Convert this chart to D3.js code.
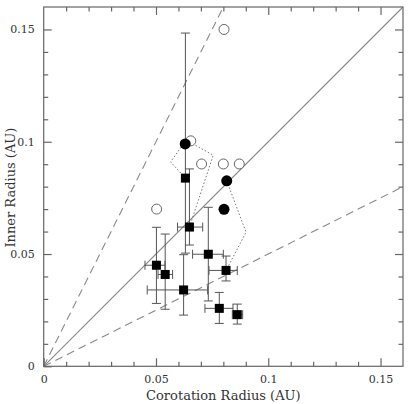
<!DOCTYPE html>
<html>
<head>
<meta charset="utf-8">
<script src="https://cdn.jsdelivr.net/npm/d3@7"></script>
<style>
body { margin: 0; background: #fff; }
text { font-family: "DejaVu Serif", serif; fill: #333; }
</style>
</head>
<body>
<div id="chart"></div>
<script>
var width = 409;
var height = 404;
var margin = {left: 43.7, top: 7, right: 6, bottom: 37.7};

// axis ticks
var majorTicks = [0, 0.05, 0.1, 0.15];
var majorLabels = ["0", "0.05", "0.1", "0.15"];
var minorTicks = [0.01, 0.02, 0.03, 0.04, 0.06, 0.07, 0.08, 0.09, 0.11, 0.12, 0.13, 0.14];

// reference lines y = slope * x
var lineSlopes = [2, 1, 0.5];
var lineDashed = [true, false, true];

// filled squares with error bars
var sqX   = [0.0631, 0.0649, 0.0733, 0.0502, 0.0541, 0.0623, 0.0812, 0.0782, 0.0862];
var sqY   = [0.0838, 0.0620, 0.0499, 0.0450, 0.0409, 0.0340, 0.0427, 0.0258, 0.0230];
var sqXlo = [0.0631, 0.0596, 0.0663, 0.0451, 0.0509, 0.0461, 0.0736, 0.0718, 0.0840];
var sqXhi = [0.0631, 0.0708, 0.0800, 0.0540, 0.0574, 0.0730, 0.0862, 0.0843, 0.0886];
var sqYlo = [0.0504, 0.0540, 0.0291, 0.0280, 0.0254, 0.0228, 0.0380, 0.0191, 0.0188];
var sqYhi = [0.1484, 0.0879, 0.0708, 0.0619, 0.0589, 0.0497, 0.0491, 0.0329, 0.0277];

// filled circles
var fcX = [0.0630, 0.0815, 0.0803];
var fcY = [0.0990, 0.0826, 0.0699];

// open circles
var ocX = [0.0803, 0.0655, 0.0703, 0.0800, 0.0871, 0.0503];
var ocY = [0.1500, 0.1004, 0.0901, 0.0901, 0.0901, 0.0700];

// dotted outlines
var poly1X = [0.0631, 0.0565, 0.0634, 0.0755, 0.0649];
var poly1Y = [0.0838, 0.0910, 0.1007, 0.0940, 0.0620];
var poly2X = [0.0815, 0.0901, 0.0812];
var poly2Y = [0.0826, 0.0597, 0.0427];

var svg = d3.select("#chart")
            .append("svg")
            .attr("width", width)
            .attr("height", height);

var xScale = d3.scaleLinear()
               .domain([0, 0.16])
               .range([margin.left, width - margin.right]);
var yScale = d3.scaleLinear()
               .domain([0, 0.16])
               .range([height - margin.bottom, margin.top]);

var axisColor = "#666";

// reference lines
lineSlopes.forEach(function(s, i){
  var xEnd = Math.min(0.16, 0.16 / s);
  svg.append("line")
     .attr("x1", xScale(0)).attr("y1", yScale(0))
     .attr("x2", xScale(xEnd)).attr("y2", yScale(xEnd * s))
     .attr("stroke", "#888")
     .attr("stroke-width", 1.1)
     .attr("stroke-dasharray", lineDashed[i] ? "8,5" : null);
});

// dotted outlines
var line = d3.line()
             .x(function(d){ return xScale(d[0]); })
             .y(function(d){ return yScale(d[1]); });
svg.append("path")
   .datum(d3.zip(poly1X, poly1Y))
   .attr("d", line)
   .attr("fill", "none").attr("stroke", "#777").attr("stroke-width", 1)
   .attr("stroke-dasharray", "1.5,2");
svg.append("path")
   .datum(d3.zip(poly2X, poly2Y))
   .attr("d", line)
   .attr("fill", "none").attr("stroke", "#777").attr("stroke-width", 1)
   .attr("stroke-dasharray", "1.5,2");

// error bars
var cap = 4.5;
var eb = svg.append("g").attr("stroke", "#555").attr("stroke-width", 1);
for (var i = 0; i < sqX.length; i++) {
  var cx = xScale(sqX[i]), cy = yScale(sqY[i]);
  if (sqXhi[i] > sqXlo[i]) {
    eb.append("line").attr("x1", xScale(sqXlo[i])).attr("x2", xScale(sqXhi[i]))
      .attr("y1", cy).attr("y2", cy);
    [sqXlo[i], sqXhi[i]].forEach(function(v){
      eb.append("line").attr("x1", xScale(v)).attr("x2", xScale(v))
        .attr("y1", cy - cap).attr("y2", cy + cap);
    });
  }
  eb.append("line").attr("x1", cx).attr("x2", cx)
    .attr("y1", yScale(sqYlo[i])).attr("y2", yScale(sqYhi[i]));
  [sqYlo[i], sqYhi[i]].forEach(function(v){
    eb.append("line").attr("x1", cx - cap).attr("x2", cx + cap)
      .attr("y1", yScale(v)).attr("y2", yScale(v));
  });
}

// squares
var sq = 9;
svg.selectAll("rect.sq")
   .data(d3.range(sqX.length))
   .enter()
   .append("rect")
   .attr("class", "sq")
   .attr("x", function(i){ return xScale(sqX[i]) - sq / 2; })
   .attr("y", function(i){ return yScale(sqY[i]) - sq / 2; })
   .attr("width", sq).attr("height", sq)
   .attr("fill", "#000");

// open circles
svg.selectAll("circle.oc")
   .data(d3.range(ocX.length))
   .enter()
   .append("circle")
   .attr("class", "oc")
   .attr("cx", function(i){ return xScale(ocX[i]); })
   .attr("cy", function(i){ return yScale(ocY[i]); })
   .attr("r", 5)
   .attr("fill", "#fff").attr("stroke", "#666").attr("stroke-width", 1);

// filled circles
svg.selectAll("circle.fc")
   .data(d3.range(fcX.length))
   .enter()
   .append("circle")
   .attr("class", "fc")
   .attr("cx", function(i){ return xScale(fcX[i]); })
   .attr("cy", function(i){ return yScale(fcY[i]); })
   .attr("r", 5.5)
   .attr("fill", "#000");

// frame
svg.append("rect")
   .attr("x", xScale(0)).attr("y", yScale(0.16))
   .attr("width", xScale(0.16) - xScale(0))
   .attr("height", yScale(0) - yScale(0.16))
   .attr("fill", "none").attr("stroke", axisColor).attr("stroke-width", 1.2);

function styleAxis(g){
  g.select(".domain").remove();
  g.selectAll(".tick line").attr("stroke", axisColor).attr("stroke-width", 1.2);
  g.selectAll("text").style("font-size", "11px").attr("fill", "#333");
}

var majLen = 8, minLen = 4.5;
var fmt = function(d, i){ return majorLabels[i]; };

// bottom
svg.append("g").attr("transform", "translate(0," + yScale(0) + ")")
   .call(d3.axisBottom(xScale).tickValues(majorTicks).tickFormat(fmt)
         .tickSizeInner(-majLen).tickSizeOuter(0).tickPadding(9))
   .call(styleAxis);
svg.append("g").attr("transform", "translate(0," + yScale(0) + ")")
   .call(d3.axisBottom(xScale).tickValues(minorTicks).tickFormat("")
         .tickSizeInner(-minLen).tickSizeOuter(0))
   .call(styleAxis);
// top
svg.append("g").attr("transform", "translate(0," + yScale(0.16) + ")")
   .call(d3.axisTop(xScale).tickValues(majorTicks.slice(1)).tickFormat("")
         .tickSizeInner(-majLen).tickSizeOuter(0))
   .call(styleAxis);
svg.append("g").attr("transform", "translate(0," + yScale(0.16) + ")")
   .call(d3.axisTop(xScale).tickValues(minorTicks).tickFormat("")
         .tickSizeInner(-minLen).tickSizeOuter(0))
   .call(styleAxis);
// left
svg.append("g").attr("transform", "translate(" + xScale(0) + ",0)")
   .call(d3.axisLeft(yScale).tickValues(majorTicks).tickFormat(fmt)
         .tickSizeInner(-majLen).tickSizeOuter(0).tickPadding(9))
   .call(styleAxis);
svg.append("g").attr("transform", "translate(" + xScale(0) + ",0)")
   .call(d3.axisLeft(yScale).tickValues(minorTicks).tickFormat("")
         .tickSizeInner(-minLen).tickSizeOuter(0))
   .call(styleAxis);
// right
svg.append("g").attr("transform", "translate(" + xScale(0.16) + ",0)")
   .call(d3.axisRight(yScale).tickValues(majorTicks.slice(1)).tickFormat("")
         .tickSizeInner(-majLen).tickSizeOuter(0))
   .call(styleAxis);
svg.append("g").attr("transform", "translate(" + xScale(0.16) + ",0)")
   .call(d3.axisRight(yScale).tickValues(minorTicks).tickFormat("")
         .tickSizeInner(-minLen).tickSizeOuter(0))
   .call(styleAxis);

// axis titles
svg.append("text")
   .attr("x", (xScale(0) + xScale(0.16)) / 2)
   .attr("y", 400)
   .attr("text-anchor", "middle")
   .style("font-size", "13px")
   .text("Corotation Radius (AU)");
svg.append("text")
   .attr("transform", "translate(15," + (yScale(0.08) + 1) + ") rotate(-90)")
   .attr("text-anchor", "middle")
   .style("font-size", "13px")
   .text("Inner Radius (AU)");
</script>
</body>
</html>
